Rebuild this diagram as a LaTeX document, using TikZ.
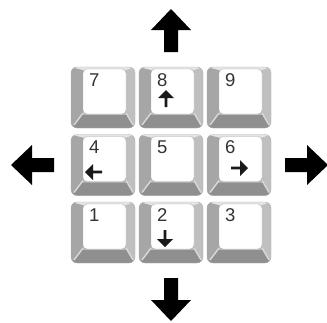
\documentclass[tikz,border=0pt]{standalone}
\usepackage{fontspec}
\setmainfont{Liberation Sans}
\usetikzlibrary{arrows.meta,positioning}

\tikzset{
  keylabel/.style={font=\fontsize{18.5}{18.5}\selectfont, text=black!80, inner sep=0pt, anchor=base west},
  keyglyph/.style={fill=black!90},
  bigarrow/.style={fill=black}
}

\begin{document}
\begin{tikzpicture}[x=1pt, y=-1pt, >=Latex]
    \useasboundingbox (0,0) rectangle (327,322);
    \foreach \d/\col/\row in {7/0/0,8/1/0,9/2/0,4/0/1,5/1/1,6/2/1,1/0/2,2/1/2,3/2/2} {
      \pgfmathsetmacro\X{71+68*\col}
      \pgfmathsetmacro\Y{67+67.5*\row}
      \begin{scope}[shift={(\X,\Y)}]
        \begin{scope}
          \clip[rounded corners=6] (0,0) rectangle (64,61);
          \fill[gray!55] (0,0) rectangle (64,61);
          \fill[gray!70] (0,0) -- (12,3) -- (12,46) -- (0,61) -- cycle;
          \fill[gray!50] (64,0) -- (55,3) -- (55,46) -- (64,61) -- cycle;
          \fill[gray!88] (0,61) -- (11,48) -- (56,48) -- (64,61) -- cycle;
          \fill[gray!20] (0,0) -- (64,0) -- (55,3) -- (12,3) -- cycle;
          \draw[gray!30, line width=1.4pt] (12,46) -- (3,58) (55,46) -- (62,58);
        \end{scope}
        \draw[gray!60, rounded corners=6] (0,0) rectangle (64,61);
        \filldraw[fill=white, draw=gray!60, rounded corners=4] (12,2) rectangle (55,47);
        \node[keylabel] (k\d) at (18,19) {\d};
      \end{scope}
    }
    \foreach \ang/\tx/\ty in {90/166/90,180/85/172,0/248/168,270/165/247} {
      \fill[keyglyph, shift={(\tx,\ty)}, rotate=\ang]
        (-17,-1.3) -- (-8,-1.3) -- (-8,-8) -- (0,0) -- (-8,8) -- (-8,1.3) -- (-17,1.3) -- cycle;
    }
    \foreach \ang/\cx/\cy in {90/171/30,270/171/300,180/32/165,0/307/165} {
      \fill[bigarrow, shift={(\cx,\cy)}, rotate=\ang]
        (-22,-7) -- (0,-7) -- (0,-20) -- (21,0) -- (0,20) -- (0,7) -- (-22,7) -- cycle;
    }
  \end{tikzpicture}
\end{document}
